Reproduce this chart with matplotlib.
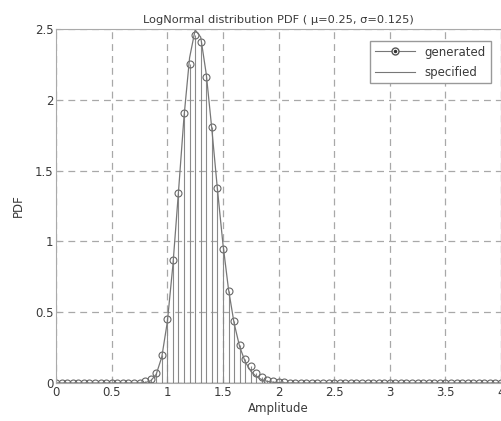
import numpy as np
import matplotlib
matplotlib.use("Agg")
import matplotlib.pyplot as plt
from matplotlib.lines import Line2D
from matplotlib.legend_handler import HandlerLine2D

# amplitude bins (0 .. 4 in 0.05 steps)
amplitude = np.round(np.arange(0, 4.0001, 0.05), 2)

# generated histogram values (nonzero part 0.80 .. 2.10)
gen_nonzero = [0.012, 0.03, 0.07, 0.20, 0.45, 0.87, 1.34, 1.91, 2.25, 2.46,
               2.41, 2.16, 1.81, 1.38, 0.95, 0.65, 0.44, 0.27, 0.17, 0.12,
               0.07, 0.045, 0.025, 0.015, 0.01, 0.005, 0.003]
# specified pdf values (nonzero part 0.75 .. 2.15)
spec_nonzero = [0.001, 0.003, 0.016, 0.062, 0.184, 0.432, 0.832, 1.349, 1.882,
                2.297, 2.494, 2.443, 2.182, 1.795, 1.372, 0.982, 0.662, 0.424,
                0.258, 0.151, 0.085, 0.046, 0.024, 0.012, 0.006, 0.003, 0.0014,
                0.0007, 0.0003]

generated = np.array([0.0] * 16 + gen_nonzero + [0.0] * (81 - 16 - len(gen_nonzero)))
specified = np.array([0.0] * 15 + spec_nonzero + [0.0] * (81 - 15 - len(spec_nonzero)))

txt = '#3a3a3a'
gry = '#8a8a8a'


class RightMarker(HandlerLine2D):
    # MATLAB style legend: marker sits at the right end of the line
    def get_xdata(self, legend, xdescent, ydescent, width, height, fontsize):
        xdata = np.array([-xdescent, -xdescent + width])
        return xdata, np.array([-xdescent + width])


fig = plt.figure(figsize=(5.01, 4.21), dpi=100)
ax = fig.add_axes([0.112, 0.090, 0.888, 0.841])

ml, sl, bl = ax.stem(amplitude, generated, linefmt='-', markerfmt='o', basefmt='-')
plt.setp(sl, color=gry, linewidth=0.8)
plt.setp(ml, markersize=5, markerfacecolor='none', markeredgecolor='#666666',
         markeredgewidth=0.8)
plt.setp(bl, color='#555555', linewidth=1.0)

ax.plot(amplitude, specified, color='#777777', linewidth=0.9)

ax.set_xlim(0, 4)
ax.set_ylim(0, 2.5)
ax.set_xticks([0, 0.5, 1, 1.5, 2, 2.5, 3, 3.5, 4])
ax.set_xticklabels(['0', '0.5', '1', '1.5', '2', '2.5', '3', '3.5', '4'])
ax.set_yticks([0, 0.5, 1, 1.5, 2, 2.5])
ax.set_yticklabels(['0', '0.5', '1', '1.5', '2', '2.5'])
ax.grid(True, color='#a8a8a8', linestyle=(0, (5.5, 4)), linewidth=0.9)
ax.set_axisbelow(True)
for s in ax.spines.values():
    s.set_color('#aaaaaa')
    s.set_linewidth(0.8)
ax.tick_params(colors='#aaaaaa', labelcolor=txt, labelsize=8.5, length=3,
               direction='in', pad=2)

ax.set_title('LogNormal distribution PDF ( \u03bc=0.25, \u03c3=0.125)',
             fontsize=8.2, color=txt, pad=4)
ax.set_xlabel('Amplitude', fontsize=8.5, color=txt, labelpad=2)
ax.set_ylabel('PDF', fontsize=8.5, color=txt, labelpad=7)

h_gen = (Line2D([], [], color='#777777', linewidth=0.8, marker='o', markersize=5,
                markerfacecolor='white', markeredgecolor='#555555'),
         Line2D([], [], color='#333333', marker='.', markersize=3, linestyle='none'))
h_spec = Line2D([], [], color='#777777', linewidth=0.8)
leg = ax.legend([h_gen, h_spec], ['generated', 'specified'], loc='upper right',
                fontsize=8.5, fancybox=False, framealpha=1, edgecolor='#999999',
                numpoints=1, handlelength=3.4, borderaxespad=0.7, labelspacing=0.6,
                handler_map={Line2D: RightMarker()},
                bbox_to_anchor=(0.995, 0.99))
for t in leg.get_texts():
    t.set_color(txt)

fig.savefig('out.png', dpi=100)
